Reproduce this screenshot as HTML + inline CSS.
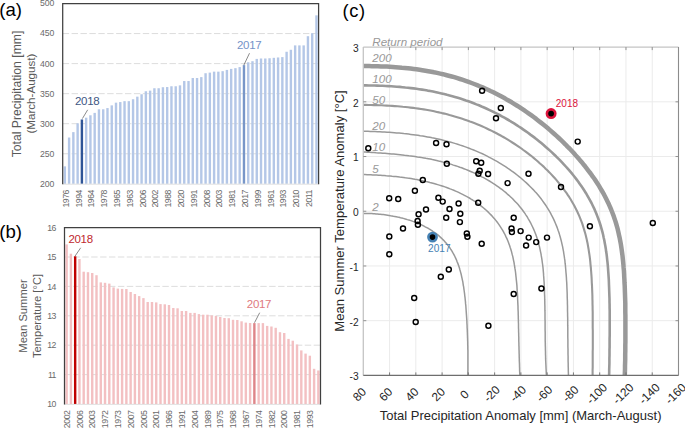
<!DOCTYPE html><html><head><meta charset="utf-8"><style>html,body{margin:0;padding:0;background:#fff;width:685px;height:428px;overflow:hidden}svg{display:block}text{font-family:"Liberation Sans", sans-serif}</style></head><body>
<svg width="685" height="428" viewBox="0 0 685 428">
<line x1="62.7" y1="33.55" x2="318.6" y2="33.55" stroke="#d9d9d9" stroke-width="0.9" stroke-dasharray="6.4 2.5"/>
<line x1="62.7" y1="63.60" x2="318.6" y2="63.60" stroke="#d9d9d9" stroke-width="0.9" stroke-dasharray="6.4 2.5"/>
<line x1="62.7" y1="93.65" x2="318.6" y2="93.65" stroke="#d9d9d9" stroke-width="0.9" stroke-dasharray="6.4 2.5"/>
<line x1="62.7" y1="123.70" x2="318.6" y2="123.70" stroke="#d9d9d9" stroke-width="0.9" stroke-dasharray="6.4 2.5"/>
<line x1="62.7" y1="153.75" x2="318.6" y2="153.75" stroke="#d9d9d9" stroke-width="0.9" stroke-dasharray="6.4 2.5"/>
<rect x="63.63" y="166.37" width="2.4" height="17.43" fill="#b4c7e7"/>
<rect x="67.90" y="137.52" width="2.4" height="46.28" fill="#b4c7e7"/>
<rect x="72.16" y="132.11" width="2.4" height="51.69" fill="#b4c7e7"/>
<rect x="76.43" y="123.28" width="2.4" height="60.52" fill="#b4c7e7"/>
<rect x="80.69" y="119.49" width="2.4" height="64.31" fill="#2f5597"/>
<rect x="84.96" y="117.69" width="2.4" height="66.11" fill="#b4c7e7"/>
<rect x="89.22" y="115.29" width="2.4" height="68.51" fill="#b4c7e7"/>
<rect x="93.49" y="112.88" width="2.4" height="70.92" fill="#b4c7e7"/>
<rect x="97.75" y="109.28" width="2.4" height="74.52" fill="#b4c7e7"/>
<rect x="102.02" y="109.28" width="2.4" height="74.52" fill="#b4c7e7"/>
<rect x="106.28" y="108.07" width="2.4" height="75.73" fill="#b4c7e7"/>
<rect x="110.55" y="105.37" width="2.4" height="78.43" fill="#b4c7e7"/>
<rect x="114.81" y="102.67" width="2.4" height="81.14" fill="#b4c7e7"/>
<rect x="119.08" y="102.06" width="2.4" height="81.74" fill="#b4c7e7"/>
<rect x="123.34" y="101.16" width="2.4" height="82.64" fill="#b4c7e7"/>
<rect x="127.61" y="101.16" width="2.4" height="82.64" fill="#b4c7e7"/>
<rect x="131.87" y="99.24" width="2.4" height="84.56" fill="#b4c7e7"/>
<rect x="136.14" y="96.66" width="2.4" height="87.15" fill="#b4c7e7"/>
<rect x="140.40" y="94.25" width="2.4" height="89.55" fill="#b4c7e7"/>
<rect x="144.67" y="91.25" width="2.4" height="92.55" fill="#b4c7e7"/>
<rect x="148.93" y="90.64" width="2.4" height="93.16" fill="#b4c7e7"/>
<rect x="153.20" y="88.24" width="2.4" height="95.56" fill="#b4c7e7"/>
<rect x="157.46" y="88.24" width="2.4" height="95.56" fill="#b4c7e7"/>
<rect x="161.73" y="87.22" width="2.4" height="96.58" fill="#b4c7e7"/>
<rect x="165.99" y="87.04" width="2.4" height="96.76" fill="#b4c7e7"/>
<rect x="170.26" y="86.26" width="2.4" height="97.54" fill="#b4c7e7"/>
<rect x="174.52" y="86.26" width="2.4" height="97.54" fill="#b4c7e7"/>
<rect x="178.79" y="85.36" width="2.4" height="98.44" fill="#b4c7e7"/>
<rect x="183.05" y="81.03" width="2.4" height="102.77" fill="#b4c7e7"/>
<rect x="187.32" y="81.03" width="2.4" height="102.77" fill="#b4c7e7"/>
<rect x="191.58" y="78.02" width="2.4" height="105.78" fill="#b4c7e7"/>
<rect x="195.85" y="78.02" width="2.4" height="105.78" fill="#b4c7e7"/>
<rect x="200.11" y="77.12" width="2.4" height="106.68" fill="#b4c7e7"/>
<rect x="204.38" y="73.22" width="2.4" height="110.58" fill="#b4c7e7"/>
<rect x="208.64" y="72.61" width="2.4" height="111.19" fill="#b4c7e7"/>
<rect x="212.91" y="71.65" width="2.4" height="112.15" fill="#b4c7e7"/>
<rect x="217.17" y="71.65" width="2.4" height="112.15" fill="#b4c7e7"/>
<rect x="221.44" y="71.17" width="2.4" height="112.63" fill="#b4c7e7"/>
<rect x="225.70" y="69.91" width="2.4" height="113.89" fill="#b4c7e7"/>
<rect x="229.97" y="68.89" width="2.4" height="114.91" fill="#b4c7e7"/>
<rect x="234.23" y="68.17" width="2.4" height="115.63" fill="#b4c7e7"/>
<rect x="238.50" y="67.09" width="2.4" height="116.71" fill="#b4c7e7"/>
<rect x="242.76" y="65.10" width="2.4" height="118.70" fill="#7896c8"/>
<rect x="247.03" y="62.28" width="2.4" height="121.52" fill="#b4c7e7"/>
<rect x="251.29" y="61.20" width="2.4" height="122.60" fill="#b4c7e7"/>
<rect x="255.56" y="58.91" width="2.4" height="124.89" fill="#b4c7e7"/>
<rect x="259.82" y="58.49" width="2.4" height="125.31" fill="#b4c7e7"/>
<rect x="264.09" y="58.49" width="2.4" height="125.31" fill="#b4c7e7"/>
<rect x="268.35" y="58.25" width="2.4" height="125.55" fill="#b4c7e7"/>
<rect x="272.62" y="57.83" width="2.4" height="125.97" fill="#b4c7e7"/>
<rect x="276.88" y="57.47" width="2.4" height="126.33" fill="#b4c7e7"/>
<rect x="281.15" y="57.11" width="2.4" height="126.69" fill="#b4c7e7"/>
<rect x="285.41" y="51.76" width="2.4" height="132.04" fill="#b4c7e7"/>
<rect x="289.68" y="49.78" width="2.4" height="134.02" fill="#b4c7e7"/>
<rect x="293.94" y="45.39" width="2.4" height="138.41" fill="#b4c7e7"/>
<rect x="298.21" y="45.39" width="2.4" height="138.41" fill="#b4c7e7"/>
<rect x="302.47" y="45.39" width="2.4" height="138.41" fill="#b4c7e7"/>
<rect x="306.74" y="36.19" width="2.4" height="147.61" fill="#b4c7e7"/>
<rect x="311.00" y="33.19" width="2.4" height="150.61" fill="#b4c7e7"/>
<rect x="315.27" y="15.34" width="2.4" height="168.46" fill="#b4c7e7"/>
<line x1="62.7" y1="184.20" x2="318.6" y2="184.20" stroke="#d9d9d9" stroke-width="0.8"/>
<path d="M62.7 184.3 V3.5 H318.6 V184.3" fill="none" stroke="#404040" stroke-width="1.25"/>
<text x="54.2" y="6.40" font-size="8.7" letter-spacing="-0.1" fill="#6a6a6a" text-anchor="end">500</text>
<text x="54.2" y="36.45" font-size="8.7" letter-spacing="-0.1" fill="#6a6a6a" text-anchor="end">450</text>
<text x="54.2" y="66.50" font-size="8.7" letter-spacing="-0.1" fill="#6a6a6a" text-anchor="end">400</text>
<text x="54.2" y="96.55" font-size="8.7" letter-spacing="-0.1" fill="#6a6a6a" text-anchor="end">350</text>
<text x="54.2" y="126.60" font-size="8.7" letter-spacing="-0.1" fill="#6a6a6a" text-anchor="end">300</text>
<text x="54.2" y="156.65" font-size="8.7" letter-spacing="-0.1" fill="#6a6a6a" text-anchor="end">250</text>
<text x="54.2" y="186.70" font-size="8.7" letter-spacing="-0.1" fill="#6a6a6a" text-anchor="end">200</text>
<text transform="translate(68.83,190) rotate(-90)" font-size="8.7" letter-spacing="-0.45" fill="#6a6a6a" text-anchor="end">1976</text>
<text transform="translate(81.63,190) rotate(-90)" font-size="8.7" letter-spacing="-0.45" fill="#6a6a6a" text-anchor="end">1994</text>
<text transform="translate(94.42,190) rotate(-90)" font-size="8.7" letter-spacing="-0.45" fill="#6a6a6a" text-anchor="end">1964</text>
<text transform="translate(107.22,190) rotate(-90)" font-size="8.7" letter-spacing="-0.45" fill="#6a6a6a" text-anchor="end">1978</text>
<text transform="translate(120.01,190) rotate(-90)" font-size="8.7" letter-spacing="-0.45" fill="#6a6a6a" text-anchor="end">1965</text>
<text transform="translate(132.81,190) rotate(-90)" font-size="8.7" letter-spacing="-0.45" fill="#6a6a6a" text-anchor="end">1963</text>
<text transform="translate(145.60,190) rotate(-90)" font-size="8.7" letter-spacing="-0.45" fill="#6a6a6a" text-anchor="end">2006</text>
<text transform="translate(158.40,190) rotate(-90)" font-size="8.7" letter-spacing="-0.45" fill="#6a6a6a" text-anchor="end">2002</text>
<text transform="translate(171.19,190) rotate(-90)" font-size="8.7" letter-spacing="-0.45" fill="#6a6a6a" text-anchor="end">1988</text>
<text transform="translate(183.99,190) rotate(-90)" font-size="8.7" letter-spacing="-0.45" fill="#6a6a6a" text-anchor="end">2020</text>
<text transform="translate(196.78,190) rotate(-90)" font-size="8.7" letter-spacing="-0.45" fill="#6a6a6a" text-anchor="end">1991</text>
<text transform="translate(209.58,190) rotate(-90)" font-size="8.7" letter-spacing="-0.45" fill="#6a6a6a" text-anchor="end">2008</text>
<text transform="translate(222.37,190) rotate(-90)" font-size="8.7" letter-spacing="-0.45" fill="#6a6a6a" text-anchor="end">2003</text>
<text transform="translate(235.17,190) rotate(-90)" font-size="8.7" letter-spacing="-0.45" fill="#6a6a6a" text-anchor="end">1981</text>
<text transform="translate(247.96,190) rotate(-90)" font-size="8.7" letter-spacing="-0.45" fill="#6a6a6a" text-anchor="end">2017</text>
<text transform="translate(260.76,190) rotate(-90)" font-size="8.7" letter-spacing="-0.45" fill="#6a6a6a" text-anchor="end">1999</text>
<text transform="translate(273.55,190) rotate(-90)" font-size="8.7" letter-spacing="-0.45" fill="#6a6a6a" text-anchor="end">1961</text>
<text transform="translate(286.35,190) rotate(-90)" font-size="8.7" letter-spacing="-0.45" fill="#6a6a6a" text-anchor="end">1993</text>
<text transform="translate(299.14,190) rotate(-90)" font-size="8.7" letter-spacing="-0.45" fill="#6a6a6a" text-anchor="end">2010</text>
<text transform="translate(311.94,190) rotate(-90)" font-size="8.7" letter-spacing="-0.45" fill="#6a6a6a" text-anchor="end">2011</text>
<text transform="translate(20.8,94.0) rotate(-90)" font-size="12.2" fill="#595959" text-anchor="middle">Total Precipitation [mm]</text>
<text transform="translate(35.0,93.6) rotate(-90)" font-size="11.6" fill="#595959" text-anchor="middle">(March-August)</text>
<line x1="87.7" y1="109.8" x2="82.4" y2="118.6" stroke="#595959" stroke-width="0.7"/>
<text x="75" y="105.4" font-size="11.5" letter-spacing="-0.3" fill="#3e5683">2018</text>
<line x1="249.5" y1="53.2" x2="243.9" y2="65" stroke="#595959" stroke-width="0.7"/>
<text x="237" y="48.7" font-size="11.5" letter-spacing="-0.3" fill="#7493c8">2017</text>
<text x="-0.8" y="16.4" font-size="18.6" fill="#000">(a)</text>
<line x1="64.5" y1="257.00" x2="320.5" y2="257.00" stroke="#d9d9d9" stroke-width="0.9" stroke-dasharray="6.4 2.5"/>
<line x1="64.5" y1="286.40" x2="320.5" y2="286.40" stroke="#d9d9d9" stroke-width="0.9" stroke-dasharray="6.4 2.5"/>
<line x1="64.5" y1="315.80" x2="320.5" y2="315.80" stroke="#d9d9d9" stroke-width="0.9" stroke-dasharray="6.4 2.5"/>
<line x1="64.5" y1="345.20" x2="320.5" y2="345.20" stroke="#d9d9d9" stroke-width="0.9" stroke-dasharray="6.4 2.5"/>
<line x1="64.5" y1="374.60" x2="320.5" y2="374.60" stroke="#d9d9d9" stroke-width="0.9" stroke-dasharray="6.4 2.5"/>
<rect x="65.43" y="244.40" width="2.4" height="159.60" fill="#f3c0c2"/>
<rect x="69.70" y="253.70" width="2.4" height="150.30" fill="#f3c0c2"/>
<rect x="73.97" y="256.30" width="2.4" height="147.70" fill="#c00000"/>
<rect x="78.23" y="259.00" width="2.4" height="145.00" fill="#f3c0c2"/>
<rect x="82.50" y="271.70" width="2.4" height="132.30" fill="#f3c0c2"/>
<rect x="86.77" y="272.20" width="2.4" height="131.80" fill="#f3c0c2"/>
<rect x="91.03" y="273.00" width="2.4" height="131.00" fill="#f3c0c2"/>
<rect x="95.30" y="275.20" width="2.4" height="128.80" fill="#f3c0c2"/>
<rect x="99.57" y="282.40" width="2.4" height="121.60" fill="#f3c0c2"/>
<rect x="103.83" y="282.80" width="2.4" height="121.20" fill="#f3c0c2"/>
<rect x="108.10" y="283.60" width="2.4" height="120.40" fill="#f3c0c2"/>
<rect x="112.37" y="287.40" width="2.4" height="116.60" fill="#f3c0c2"/>
<rect x="116.63" y="288.60" width="2.4" height="115.40" fill="#f3c0c2"/>
<rect x="120.90" y="288.90" width="2.4" height="115.10" fill="#f3c0c2"/>
<rect x="125.17" y="289.00" width="2.4" height="115.00" fill="#f3c0c2"/>
<rect x="129.43" y="292.00" width="2.4" height="112.00" fill="#f3c0c2"/>
<rect x="133.70" y="294.00" width="2.4" height="110.00" fill="#f3c0c2"/>
<rect x="137.97" y="296.10" width="2.4" height="107.90" fill="#f3c0c2"/>
<rect x="142.23" y="298.10" width="2.4" height="105.90" fill="#f3c0c2"/>
<rect x="146.50" y="302.00" width="2.4" height="102.00" fill="#f3c0c2"/>
<rect x="150.77" y="302.00" width="2.4" height="102.00" fill="#f3c0c2"/>
<rect x="155.03" y="302.40" width="2.4" height="101.60" fill="#f3c0c2"/>
<rect x="159.30" y="304.10" width="2.4" height="99.90" fill="#f3c0c2"/>
<rect x="163.57" y="304.30" width="2.4" height="99.70" fill="#f3c0c2"/>
<rect x="167.83" y="305.00" width="2.4" height="99.00" fill="#f3c0c2"/>
<rect x="172.10" y="308.00" width="2.4" height="96.00" fill="#f3c0c2"/>
<rect x="176.37" y="308.30" width="2.4" height="95.70" fill="#f3c0c2"/>
<rect x="180.63" y="311.00" width="2.4" height="93.00" fill="#f3c0c2"/>
<rect x="184.90" y="311.00" width="2.4" height="93.00" fill="#f3c0c2"/>
<rect x="189.17" y="312.90" width="2.4" height="91.10" fill="#f3c0c2"/>
<rect x="193.43" y="312.90" width="2.4" height="91.10" fill="#f3c0c2"/>
<rect x="197.70" y="314.10" width="2.4" height="89.90" fill="#f3c0c2"/>
<rect x="201.97" y="314.70" width="2.4" height="89.30" fill="#f3c0c2"/>
<rect x="206.23" y="314.70" width="2.4" height="89.30" fill="#f3c0c2"/>
<rect x="210.50" y="315.40" width="2.4" height="88.60" fill="#f3c0c2"/>
<rect x="214.77" y="315.90" width="2.4" height="88.10" fill="#f3c0c2"/>
<rect x="219.03" y="317.00" width="2.4" height="87.00" fill="#f3c0c2"/>
<rect x="223.30" y="318.00" width="2.4" height="86.00" fill="#f3c0c2"/>
<rect x="227.57" y="318.20" width="2.4" height="85.80" fill="#f3c0c2"/>
<rect x="231.83" y="319.80" width="2.4" height="84.20" fill="#f3c0c2"/>
<rect x="236.10" y="320.00" width="2.4" height="84.00" fill="#f3c0c2"/>
<rect x="240.37" y="321.30" width="2.4" height="82.70" fill="#f3c0c2"/>
<rect x="244.63" y="322.60" width="2.4" height="81.40" fill="#f3c0c2"/>
<rect x="248.90" y="323.00" width="2.4" height="81.00" fill="#f3c0c2"/>
<rect x="253.17" y="323.10" width="2.4" height="80.90" fill="#de8589"/>
<rect x="257.43" y="323.10" width="2.4" height="80.90" fill="#f3c0c2"/>
<rect x="261.70" y="323.10" width="2.4" height="80.90" fill="#f3c0c2"/>
<rect x="265.97" y="325.90" width="2.4" height="78.10" fill="#f3c0c2"/>
<rect x="270.23" y="326.50" width="2.4" height="77.50" fill="#f3c0c2"/>
<rect x="274.50" y="327.80" width="2.4" height="76.20" fill="#f3c0c2"/>
<rect x="278.77" y="332.20" width="2.4" height="71.80" fill="#f3c0c2"/>
<rect x="283.03" y="333.00" width="2.4" height="71.00" fill="#f3c0c2"/>
<rect x="287.30" y="338.90" width="2.4" height="65.10" fill="#f3c0c2"/>
<rect x="291.57" y="340.70" width="2.4" height="63.30" fill="#f3c0c2"/>
<rect x="295.83" y="344.50" width="2.4" height="59.50" fill="#f3c0c2"/>
<rect x="300.10" y="350.40" width="2.4" height="53.60" fill="#f3c0c2"/>
<rect x="304.37" y="353.60" width="2.4" height="50.40" fill="#f3c0c2"/>
<rect x="308.63" y="355.70" width="2.4" height="48.30" fill="#f3c0c2"/>
<rect x="312.90" y="368.80" width="2.4" height="35.20" fill="#f3c0c2"/>
<rect x="317.17" y="370.50" width="2.4" height="33.50" fill="#f3c0c2"/>
<line x1="64.5" y1="404.40" x2="320.5" y2="404.40" stroke="#d9d9d9" stroke-width="0.8"/>
<path d="M64.5 404.5 V227.6 H320.5 V404.5" fill="none" stroke="#404040" stroke-width="1.25"/>
<text x="56" y="230.70" font-size="8.7" letter-spacing="-0.45" fill="#6a6a6a" text-anchor="end">16</text>
<text x="56" y="260.10" font-size="8.7" letter-spacing="-0.45" fill="#6a6a6a" text-anchor="end">15</text>
<text x="56" y="289.50" font-size="8.7" letter-spacing="-0.45" fill="#6a6a6a" text-anchor="end">14</text>
<text x="56" y="318.90" font-size="8.7" letter-spacing="-0.45" fill="#6a6a6a" text-anchor="end">13</text>
<text x="56" y="348.30" font-size="8.7" letter-spacing="-0.45" fill="#6a6a6a" text-anchor="end">12</text>
<text x="56" y="377.70" font-size="8.7" letter-spacing="-0.45" fill="#6a6a6a" text-anchor="end">11</text>
<text x="56" y="407.10" font-size="8.7" letter-spacing="-0.45" fill="#6a6a6a" text-anchor="end">10</text>
<text transform="translate(69.73,410.6) rotate(-90)" font-size="8.7" letter-spacing="-0.45" fill="#6a6a6a" text-anchor="end">2002</text>
<text transform="translate(82.53,410.6) rotate(-90)" font-size="8.7" letter-spacing="-0.45" fill="#6a6a6a" text-anchor="end">2006</text>
<text transform="translate(95.33,410.6) rotate(-90)" font-size="8.7" letter-spacing="-0.45" fill="#6a6a6a" text-anchor="end">2003</text>
<text transform="translate(108.13,410.6) rotate(-90)" font-size="8.7" letter-spacing="-0.45" fill="#6a6a6a" text-anchor="end">1972</text>
<text transform="translate(120.93,410.6) rotate(-90)" font-size="8.7" letter-spacing="-0.45" fill="#6a6a6a" text-anchor="end">1973</text>
<text transform="translate(133.73,410.6) rotate(-90)" font-size="8.7" letter-spacing="-0.45" fill="#6a6a6a" text-anchor="end">2007</text>
<text transform="translate(146.53,410.6) rotate(-90)" font-size="8.7" letter-spacing="-0.45" fill="#6a6a6a" text-anchor="end">2005</text>
<text transform="translate(159.33,410.6) rotate(-90)" font-size="8.7" letter-spacing="-0.45" fill="#6a6a6a" text-anchor="end">2001</text>
<text transform="translate(172.13,410.6) rotate(-90)" font-size="8.7" letter-spacing="-0.45" fill="#6a6a6a" text-anchor="end">1966</text>
<text transform="translate(184.93,410.6) rotate(-90)" font-size="8.7" letter-spacing="-0.45" fill="#6a6a6a" text-anchor="end">1991</text>
<text transform="translate(197.73,410.6) rotate(-90)" font-size="8.7" letter-spacing="-0.45" fill="#6a6a6a" text-anchor="end">2004</text>
<text transform="translate(210.53,410.6) rotate(-90)" font-size="8.7" letter-spacing="-0.45" fill="#6a6a6a" text-anchor="end">1989</text>
<text transform="translate(223.33,410.6) rotate(-90)" font-size="8.7" letter-spacing="-0.45" fill="#6a6a6a" text-anchor="end">1975</text>
<text transform="translate(236.13,410.6) rotate(-90)" font-size="8.7" letter-spacing="-0.45" fill="#6a6a6a" text-anchor="end">1968</text>
<text transform="translate(248.93,410.6) rotate(-90)" font-size="8.7" letter-spacing="-0.45" fill="#6a6a6a" text-anchor="end">1967</text>
<text transform="translate(261.73,410.6) rotate(-90)" font-size="8.7" letter-spacing="-0.45" fill="#6a6a6a" text-anchor="end">1974</text>
<text transform="translate(274.53,410.6) rotate(-90)" font-size="8.7" letter-spacing="-0.45" fill="#6a6a6a" text-anchor="end">1982</text>
<text transform="translate(287.33,410.6) rotate(-90)" font-size="8.7" letter-spacing="-0.45" fill="#6a6a6a" text-anchor="end">2000</text>
<text transform="translate(300.13,410.6) rotate(-90)" font-size="8.7" letter-spacing="-0.45" fill="#6a6a6a" text-anchor="end">1981</text>
<text transform="translate(312.93,410.6) rotate(-90)" font-size="8.7" letter-spacing="-0.45" fill="#6a6a6a" text-anchor="end">1993</text>
<text transform="translate(27.3,316) rotate(-90)" font-size="11.2" fill="#595959" text-anchor="middle">Mean Summer</text>
<text transform="translate(41.2,316) rotate(-90)" font-size="11.1" fill="#595959" text-anchor="middle">Temperature [°C]</text>
<line x1="80.7" y1="247.8" x2="75.1" y2="256" stroke="#595959" stroke-width="0.7"/>
<text x="68.4" y="243.4" font-size="11.5" letter-spacing="-0.3" fill="#c0282e">2018</text>
<line x1="259.7" y1="312.7" x2="254.5" y2="322.7" stroke="#595959" stroke-width="0.7"/>
<text x="246.8" y="308.2" font-size="11.5" letter-spacing="-0.3" fill="#e07a80">2017</text>
<text x="-0.8" y="237.8" font-size="18.6" fill="#000">(b)</text>
<line x1="389.57" y1="47.1" x2="389.57" y2="375.4" stroke="#ebebeb" stroke-width="1"/>
<line x1="415.83" y1="47.1" x2="415.83" y2="375.4" stroke="#ebebeb" stroke-width="1"/>
<line x1="442.10" y1="47.1" x2="442.10" y2="375.4" stroke="#ebebeb" stroke-width="1"/>
<line x1="468.37" y1="47.1" x2="468.37" y2="375.4" stroke="#ebebeb" stroke-width="1"/>
<line x1="494.63" y1="47.1" x2="494.63" y2="375.4" stroke="#ebebeb" stroke-width="1"/>
<line x1="520.90" y1="47.1" x2="520.90" y2="375.4" stroke="#ebebeb" stroke-width="1"/>
<line x1="547.17" y1="47.1" x2="547.17" y2="375.4" stroke="#ebebeb" stroke-width="1"/>
<line x1="573.43" y1="47.1" x2="573.43" y2="375.4" stroke="#ebebeb" stroke-width="1"/>
<line x1="599.70" y1="47.1" x2="599.70" y2="375.4" stroke="#ebebeb" stroke-width="1"/>
<line x1="625.97" y1="47.1" x2="625.97" y2="375.4" stroke="#ebebeb" stroke-width="1"/>
<line x1="652.23" y1="47.1" x2="652.23" y2="375.4" stroke="#ebebeb" stroke-width="1"/>
<line x1="363.3" y1="101.82" x2="678.5" y2="101.82" stroke="#ebebeb" stroke-width="1"/>
<line x1="363.3" y1="156.53" x2="678.5" y2="156.53" stroke="#ebebeb" stroke-width="1"/>
<line x1="363.3" y1="211.25" x2="678.5" y2="211.25" stroke="#ebebeb" stroke-width="1"/>
<line x1="363.3" y1="265.97" x2="678.5" y2="265.97" stroke="#ebebeb" stroke-width="1"/>
<line x1="363.3" y1="320.68" x2="678.5" y2="320.68" stroke="#ebebeb" stroke-width="1"/>
<defs><clipPath id="cc"><rect x="363.3" y="47.1" width="315.2" height="328.29999999999995"/></clipPath></defs>
<g fill="none" stroke="#999999" stroke-linecap="butt" stroke-linejoin="round" clip-path="url(#cc)">
<path d="M363.3 213.4 L364.5 213.4 L366.0 213.4 L367.4 213.5 L368.9 213.5 L370.3 213.6 L371.8 213.6 L373.2 213.7 L374.7 213.8 L376.0 213.9 L377.6 214.0 L378.9 214.2 L380.4 214.3 L382.0 214.5 L383.3 214.6 L384.8 214.8 L386.2 215.0 L387.7 215.2 L389.0 215.4 L390.6 215.7 L391.9 215.9 L393.4 216.2 L394.7 216.4 L396.2 216.7 L397.5 217.0 L399.0 217.3 L400.5 217.7 L401.9 218.0 L403.3 218.4 L404.6 218.8 L406.1 219.2 L407.4 219.6 L408.9 220.0 L410.2 220.4 L411.6 220.9 L412.9 221.4 L414.3 221.9 L415.8 222.4 L417.0 222.9 L418.4 223.5 L419.7 224.1 L421.1 224.7 L422.3 225.3 L423.6 225.9 L424.8 226.6 L426.2 227.3 L427.4 227.9 L428.7 228.7 L429.9 229.4 L431.1 230.2 L432.4 231.0 L433.5 231.8 L434.8 232.7 L435.9 233.4 L437.1 234.4 L438.1 235.2 L439.3 236.2 L440.3 237.1 L441.4 238.1 L442.3 239.0 L443.4 240.1 L444.3 241.1 L445.3 242.2 L446.3 243.3 L447.2 244.4 L448.1 245.6 L448.9 246.6 L449.8 247.8 L450.5 248.9 L451.4 250.2 L452.1 251.3 L452.8 252.7 L453.5 253.8 L454.2 255.1 L454.9 256.5 L455.4 257.7 L456.1 259.1 L456.6 260.3 L457.1 261.7 L457.6 262.9 L458.2 264.4 L458.6 265.6 L459.1 267.1 L459.5 268.3 L459.9 269.8 L460.3 271.1 L460.7 272.6 L461.1 274.0 L461.4 275.3 L461.7 276.8 L462.0 278.1 L462.3 279.6 L462.6 280.9 L462.9 282.4 L463.1 283.8 L463.3 285.3 L463.6 286.6 L463.8 288.1 L464.0 289.6 L464.2 291.0 L464.4 292.5 L464.6 293.8 L464.7 295.3 L464.9 296.7 L465.1 298.2 L465.2 299.5 L465.4 301.1 L465.5 302.4 L465.6 303.9 L465.8 305.3 L465.9 306.8 L466.0 308.4 L466.1 309.7 L466.2 311.2 L466.3 312.6 L466.4 314.1 L466.5 315.5 L466.6 317.0 L466.7 318.4 L466.8 319.9 L466.9 321.2 L466.9 322.8 L467.0 324.1 L467.1 325.7 L467.1 327.2 L467.2 328.6 L467.3 330.1 L467.3 331.4 L467.4 333.0 L467.4 334.3 L467.5 335.9 L467.5 337.2 L467.6 338.8 L467.6 340.1 L467.7 341.7 L467.7 343.2 L467.7 344.6 L467.8 346.1 L467.8 347.5 L467.8 349.0 L467.9 350.4 L467.9 351.9 L467.9 353.2 L467.9 354.8 L467.9 356.1 L467.9 357.7 L467.9 359.0 L467.9 360.6 L467.9 362.1 L467.9 363.5 L467.9 365.0 L467.9 366.4 L467.9 367.9 L467.9 369.3 L467.9 370.8 L467.8 372.2 L467.8 373.7 L467.8 375.1 L467.7 376.6 L467.7 378.1" stroke-width="1.5"/>
<path d="M363.3 174.6 L365.0 174.6 L367.1 174.7 L368.9 174.8 L370.9 174.8 L372.7 174.9 L374.8 175.0 L376.5 175.1 L378.6 175.2 L380.4 175.3 L382.4 175.5 L384.2 175.6 L386.2 175.8 L388.3 175.9 L390.1 176.1 L392.1 176.3 L393.9 176.4 L395.9 176.6 L397.7 176.8 L399.7 177.1 L401.5 177.3 L403.5 177.5 L405.3 177.8 L407.4 178.1 L409.1 178.3 L411.1 178.6 L413.2 179.0 L414.9 179.3 L416.9 179.6 L418.7 180.0 L420.7 180.4 L422.5 180.7 L424.5 181.2 L426.2 181.6 L428.2 182.0 L429.9 182.5 L431.9 183.0 L433.9 183.5 L435.6 184.0 L437.6 184.6 L439.3 185.1 L441.3 185.7 L443.0 186.2 L444.9 186.9 L446.6 187.5 L448.5 188.2 L450.2 188.9 L452.1 189.6 L453.8 190.3 L455.6 191.1 L457.5 191.9 L459.1 192.7 L461.0 193.6 L462.6 194.4 L464.4 195.3 L466.0 196.2 L467.8 197.1 L469.4 198.0 L471.1 199.1 L472.6 200.0 L474.4 201.2 L475.9 202.1 L477.5 203.3 L479.2 204.5 L480.6 205.6 L482.2 206.9 L483.6 208.0 L485.2 209.3 L486.5 210.5 L488.0 211.9 L489.3 213.2 L490.7 214.6 L492.0 215.9 L493.3 217.4 L494.7 219.0 L495.8 220.4 L497.1 222.0 L498.1 223.4 L499.3 225.1 L500.3 226.6 L501.4 228.3 L502.4 229.8 L503.4 231.6 L504.2 233.2 L505.2 235.0 L505.9 236.6 L506.8 238.4 L507.6 240.3 L508.3 242.0 L509.0 243.9 L509.6 245.6 L510.2 247.5 L510.8 249.2 L511.4 251.2 L511.8 252.9 L512.3 254.9 L512.8 256.6 L513.2 258.6 L513.6 260.6 L514.0 262.4 L514.3 264.4 L514.6 266.1 L514.9 268.2 L515.2 269.9 L515.5 272.0 L515.7 273.7 L515.9 275.8 L516.1 277.5 L516.3 279.6 L516.5 281.4 L516.7 283.4 L516.9 285.4 L517.0 287.2 L517.1 289.3 L517.2 291.1 L517.4 293.1 L517.5 294.9 L517.6 296.9 L517.6 298.7 L517.7 300.8 L517.8 302.6 L517.9 304.6 L518.0 306.4 L518.0 308.4 L518.1 310.5 L518.2 312.3 L518.2 314.3 L518.3 316.1 L518.3 318.2 L518.4 320.0 L518.4 322.0 L518.5 323.8 L518.5 325.9 L518.5 327.6 L518.6 329.7 L518.6 331.8 L518.7 333.5 L518.7 335.6 L518.8 337.4 L518.8 339.4 L518.8 341.2 L518.9 343.3 L518.9 345.1 L519.0 347.1 L519.0 348.9 L519.1 351.0 L519.1 352.8 L519.2 354.8 L519.2 356.9 L519.3 358.7 L519.3 360.7 L519.4 362.5 L519.5 364.6 L519.5 366.3 L519.6 368.4 L519.6 370.2 L519.7 372.2 L519.8 374.0 L519.9 376.1 L520.0 378.1" stroke-width="1.5"/>
<path d="M363.3 152.0 L365.3 152.1 L367.6 152.2 L369.6 152.3 L371.9 152.5 L373.9 152.6 L376.2 152.8 L378.3 152.9 L380.6 153.0 L382.6 153.2 L384.9 153.3 L386.9 153.5 L389.2 153.7 L391.5 153.9 L393.6 154.1 L395.9 154.3 L397.9 154.5 L400.2 154.7 L402.2 154.9 L404.5 155.2 L406.5 155.4 L408.8 155.7 L410.8 155.9 L413.1 156.2 L415.1 156.5 L417.4 156.9 L419.6 157.2 L421.6 157.6 L423.9 157.9 L425.9 158.3 L428.2 158.7 L430.2 159.1 L432.4 159.6 L434.4 160.0 L436.7 160.5 L438.6 161.0 L440.9 161.5 L443.1 162.1 L445.1 162.6 L447.3 163.2 L449.3 163.8 L451.5 164.4 L453.4 165.1 L455.6 165.8 L457.6 166.4 L459.8 167.2 L461.7 167.8 L463.9 168.7 L465.7 169.4 L467.9 170.3 L470.0 171.2 L471.9 172.0 L474.0 172.9 L475.9 173.8 L478.0 174.8 L479.8 175.7 L481.8 176.8 L483.6 177.7 L485.7 178.8 L487.4 179.8 L489.4 181.0 L491.2 182.1 L493.1 183.3 L495.1 184.6 L496.8 185.8 L498.7 187.1 L500.3 188.3 L502.2 189.7 L503.8 191.0 L505.6 192.4 L507.1 193.8 L508.9 195.3 L510.4 196.7 L512.1 198.3 L513.7 199.9 L515.1 201.4 L516.7 203.1 L518.1 204.6 L519.6 206.4 L520.9 208.0 L522.3 209.8 L523.5 211.5 L524.9 213.4 L526.0 215.1 L527.3 217.0 L528.3 218.8 L529.5 220.8 L530.6 222.8 L531.5 224.7 L532.5 226.8 L533.4 228.6 L534.3 230.8 L535.1 232.7 L535.9 234.8 L536.6 236.7 L537.3 238.9 L537.9 240.9 L538.5 243.1 L539.1 245.4 L539.6 247.3 L540.1 249.6 L540.5 251.6 L541.0 253.9 L541.3 255.9 L541.7 258.2 L542.0 260.2 L542.3 262.5 L542.6 264.5 L542.9 266.8 L543.1 268.8 L543.3 271.1 L543.5 273.4 L543.6 275.4 L543.8 277.7 L543.9 279.7 L544.1 282.1 L544.2 284.1 L544.3 286.4 L544.4 288.4 L544.5 290.7 L544.5 292.8 L544.6 295.1 L544.7 297.1 L544.7 299.4 L544.8 301.7 L544.8 303.7 L544.9 306.1 L544.9 308.1 L544.9 310.4 L545.0 312.4 L545.0 314.7 L545.0 316.8 L545.0 319.1 L545.1 321.1 L545.1 323.4 L545.1 325.7 L545.1 327.8 L545.1 330.1 L545.2 332.1 L545.2 334.4 L545.2 336.4 L545.2 338.8 L545.2 340.8 L545.3 343.1 L545.3 345.1 L545.4 347.4 L545.4 349.5 L545.5 351.8 L545.5 354.1 L545.6 356.1 L545.6 358.4 L545.7 360.5 L545.8 362.8 L545.9 364.8 L546.0 367.1 L546.1 369.2 L546.2 371.5 L546.3 373.5 L546.4 375.8 L546.5 378.1" stroke-width="1.5"/>
<path d="M363.3 131.2 L365.5 131.2 L368.0 131.3 L370.3 131.4 L372.8 131.5 L375.0 131.6 L377.6 131.7 L379.8 131.8 L382.3 131.9 L384.5 132.0 L387.1 132.2 L389.3 132.3 L391.8 132.5 L394.4 132.7 L396.6 132.9 L399.1 133.1 L401.3 133.3 L403.8 133.6 L406.1 133.8 L408.6 134.1 L410.8 134.4 L413.3 134.7 L415.5 135.0 L418.0 135.3 L420.2 135.7 L422.8 136.1 L425.2 136.5 L427.4 136.9 L429.9 137.3 L432.1 137.8 L434.6 138.3 L436.8 138.7 L439.3 139.3 L441.5 139.8 L443.9 140.4 L446.1 140.9 L448.6 141.6 L451.0 142.3 L453.1 142.9 L455.6 143.6 L457.7 144.3 L460.1 145.1 L462.3 145.8 L464.7 146.6 L466.8 147.4 L469.1 148.3 L471.2 149.1 L473.6 150.0 L475.7 150.9 L478.0 151.9 L480.3 152.9 L482.4 153.8 L484.7 154.9 L486.7 155.9 L488.9 157.1 L490.9 158.1 L493.2 159.3 L495.1 160.4 L497.4 161.6 L499.3 162.8 L501.4 164.1 L503.4 165.3 L505.5 166.6 L507.6 168.1 L509.5 169.3 L511.5 170.8 L513.4 172.1 L515.4 173.6 L517.1 175.0 L519.1 176.6 L520.9 178.0 L522.8 179.7 L524.5 181.2 L526.4 182.9 L528.2 184.6 L529.8 186.2 L531.6 188.0 L533.2 189.6 L534.9 191.5 L536.4 193.1 L538.1 195.1 L539.5 196.8 L541.1 198.8 L542.4 200.6 L543.9 202.7 L545.2 204.5 L546.6 206.6 L548.0 208.8 L549.1 210.7 L550.4 212.9 L551.4 214.9 L552.6 217.1 L553.6 219.1 L554.6 221.4 L555.5 223.5 L556.5 225.9 L557.3 227.9 L558.1 230.3 L559.0 232.8 L559.6 234.9 L560.3 237.3 L560.9 239.5 L561.5 241.9 L562.0 244.1 L562.6 246.6 L563.0 248.8 L563.5 251.3 L563.8 253.5 L564.2 256.0 L564.5 258.2 L564.9 260.7 L565.1 263.2 L565.4 265.4 L565.6 268.0 L565.8 270.2 L566.0 272.7 L566.2 274.9 L566.4 277.5 L566.5 279.7 L566.7 282.2 L566.8 284.4 L566.9 287.0 L567.0 289.2 L567.1 291.8 L567.2 294.3 L567.2 296.5 L567.3 299.1 L567.4 301.3 L567.4 303.8 L567.5 306.0 L567.5 308.6 L567.5 310.8 L567.6 313.3 L567.6 315.6 L567.7 318.1 L567.7 320.6 L567.7 322.9 L567.7 325.4 L567.8 327.6 L567.8 330.2 L567.8 332.4 L567.8 334.9 L567.8 337.2 L567.9 339.7 L567.9 341.9 L567.9 344.5 L567.9 346.7 L568.0 349.2 L568.0 351.8 L568.0 354.0 L568.1 356.5 L568.1 358.8 L568.1 361.3 L568.2 363.5 L568.2 366.1 L568.3 368.3 L568.3 370.8 L568.4 373.1 L568.4 375.6 L568.5 378.1" stroke-width="1.5"/>
<path d="M363.3 104.9 L365.7 104.9 L368.5 105.0 L371.0 105.0 L373.8 105.1 L376.2 105.1 L379.1 105.2 L381.5 105.3 L384.3 105.5 L386.8 105.6 L389.6 105.7 L392.0 105.9 L394.8 106.1 L397.6 106.3 L400.1 106.5 L402.8 106.8 L405.3 107.0 L408.1 107.3 L410.5 107.6 L413.3 107.9 L415.7 108.2 L418.5 108.6 L421.0 109.0 L423.7 109.4 L426.1 109.8 L428.9 110.3 L431.7 110.8 L434.1 111.3 L436.8 111.9 L439.2 112.4 L442.0 113.1 L444.4 113.6 L447.1 114.3 L449.5 115.0 L452.2 115.7 L454.6 116.4 L457.2 117.2 L459.9 118.0 L462.3 118.8 L464.9 119.7 L467.3 120.5 L469.9 121.5 L472.2 122.3 L474.8 123.3 L477.1 124.2 L479.7 125.3 L482.0 126.3 L484.5 127.4 L486.8 128.5 L489.3 129.7 L491.8 130.9 L494.0 132.0 L496.5 133.3 L498.7 134.5 L501.2 135.8 L503.3 137.0 L505.7 138.4 L507.8 139.7 L510.2 141.2 L512.3 142.5 L514.7 144.0 L516.7 145.3 L519.0 146.9 L521.4 148.5 L523.3 150.0 L525.6 151.6 L527.6 153.1 L529.8 154.8 L531.7 156.3 L533.9 158.1 L535.8 159.7 L537.9 161.5 L539.7 163.2 L541.8 165.0 L543.9 166.9 L545.6 168.7 L547.6 170.6 L549.4 172.4 L551.3 174.4 L553.0 176.2 L554.9 178.3 L556.5 180.1 L558.3 182.3 L559.8 184.2 L561.6 186.3 L563.1 188.3 L564.7 190.6 L566.4 192.8 L567.7 194.9 L569.3 197.2 L570.6 199.3 L572.0 201.7 L573.2 203.8 L574.6 206.3 L575.7 208.4 L577.0 211.0 L578.0 213.2 L579.1 215.7 L580.2 218.3 L581.1 220.6 L582.1 223.2 L582.9 225.6 L583.7 228.2 L584.4 230.6 L585.2 233.3 L585.8 235.6 L586.5 238.4 L587.0 240.8 L587.6 243.5 L588.0 245.9 L588.5 248.7 L588.9 251.4 L589.3 253.9 L589.7 256.6 L590.0 259.1 L590.3 261.9 L590.5 264.3 L590.8 267.1 L591.0 269.5 L591.2 272.3 L591.4 274.8 L591.6 277.6 L591.7 280.0 L591.8 282.8 L592.0 285.6 L592.1 288.1 L592.2 290.9 L592.3 293.3 L592.4 296.1 L592.4 298.6 L592.5 301.4 L592.5 303.8 L592.6 306.6 L592.6 309.1 L592.7 311.9 L592.7 314.7 L592.7 317.1 L592.7 320.0 L592.7 322.4 L592.7 325.2 L592.7 327.7 L592.8 330.5 L592.8 332.9 L592.8 335.7 L592.8 338.2 L592.8 341.0 L592.8 343.4 L592.8 346.2 L592.8 349.1 L592.7 351.5 L592.7 354.3 L592.7 356.8 L592.7 359.6 L592.7 362.0 L592.7 364.8 L592.7 367.3 L592.6 370.1 L592.6 372.5 L592.6 375.3 L592.6 378.1" stroke-width="2.1"/>
<path d="M363.3 85.4 L365.9 85.4 L368.9 85.5 L371.5 85.5 L374.5 85.5 L377.1 85.6 L380.1 85.7 L382.7 85.8 L385.7 86.0 L388.3 86.1 L391.3 86.3 L393.9 86.5 L396.9 86.7 L399.8 86.9 L402.4 87.2 L405.4 87.5 L408.0 87.7 L411.0 88.1 L413.6 88.4 L416.5 88.8 L419.1 89.2 L422.1 89.6 L424.7 90.0 L427.6 90.6 L430.2 91.0 L433.1 91.6 L436.1 92.2 L438.6 92.8 L441.5 93.4 L444.1 94.0 L447.0 94.8 L449.5 95.4 L452.4 96.2 L454.9 96.9 L457.8 97.8 L460.3 98.6 L463.1 99.5 L465.9 100.5 L468.4 101.3 L471.2 102.3 L473.7 103.3 L476.4 104.4 L478.9 105.3 L481.6 106.5 L484.0 107.5 L486.8 108.8 L489.1 109.9 L491.8 111.2 L494.2 112.3 L496.9 113.7 L499.5 115.0 L501.8 116.3 L504.4 117.7 L506.7 119.0 L509.3 120.5 L511.5 121.9 L514.1 123.4 L516.3 124.8 L518.8 126.5 L521.0 127.9 L523.4 129.6 L525.6 131.1 L528.0 132.8 L530.4 134.6 L532.5 136.1 L534.9 137.9 L536.9 139.5 L539.3 141.4 L541.3 143.1 L543.6 145.0 L545.5 146.7 L547.8 148.7 L549.7 150.4 L551.9 152.4 L554.1 154.5 L556.0 156.3 L558.1 158.4 L559.9 160.2 L562.0 162.4 L563.8 164.3 L565.8 166.5 L567.5 168.4 L569.5 170.7 L571.2 172.7 L573.1 175.0 L574.7 177.0 L576.5 179.4 L578.3 181.8 L579.8 183.9 L581.5 186.3 L583.0 188.5 L584.6 191.0 L586.0 193.2 L587.5 195.8 L588.8 198.1 L590.2 200.7 L591.5 203.0 L592.8 205.7 L594.1 208.3 L595.1 210.7 L596.3 213.5 L597.2 215.9 L598.3 218.7 L599.2 221.2 L600.1 224.0 L600.9 226.5 L601.7 229.4 L602.4 231.9 L603.1 234.8 L603.6 237.3 L604.3 240.3 L604.8 243.2 L605.3 245.8 L605.8 248.7 L606.1 251.3 L606.6 254.3 L606.9 256.9 L607.2 259.8 L607.5 262.4 L607.8 265.4 L608.0 268.0 L608.2 271.0 L608.4 273.6 L608.6 276.6 L608.8 279.6 L608.9 282.2 L609.0 285.2 L609.1 287.8 L609.2 290.8 L609.3 293.4 L609.4 296.4 L609.5 299.0 L609.5 302.0 L609.6 304.6 L609.6 307.6 L609.7 310.6 L609.7 313.2 L609.7 316.2 L609.7 318.8 L609.7 321.8 L609.7 324.4 L609.7 327.4 L609.7 330.0 L609.7 333.0 L609.7 335.6 L609.6 338.6 L609.6 341.2 L609.6 344.2 L609.6 347.1 L609.5 349.8 L609.5 352.8 L609.5 355.4 L609.4 358.4 L609.4 361.0 L609.4 363.9 L609.3 366.6 L609.2 369.6 L609.2 372.2 L609.1 375.1 L609.0 378.1" stroke-width="2.6"/>
<path d="M363.3 66.1 L366.0 66.1 L369.2 66.1 L371.9 66.2 L375.1 66.2 L377.9 66.3 L381.0 66.4 L383.8 66.5 L386.9 66.6 L389.7 66.8 L392.9 67.0 L395.6 67.2 L398.8 67.4 L401.9 67.7 L404.7 67.9 L407.8 68.2 L410.6 68.6 L413.7 69.0 L416.4 69.3 L419.6 69.8 L422.3 70.2 L425.4 70.7 L428.2 71.2 L431.3 71.7 L434.0 72.3 L437.1 72.9 L440.2 73.6 L442.9 74.2 L445.9 75.0 L448.6 75.7 L451.7 76.5 L454.3 77.2 L457.4 78.2 L460.0 79.0 L463.0 79.9 L465.6 80.8 L468.6 81.9 L471.6 83.0 L474.2 84.0 L477.1 85.1 L479.7 86.2 L482.6 87.4 L485.1 88.5 L488.0 89.8 L490.5 91.0 L493.4 92.3 L495.8 93.6 L498.6 95.0 L501.1 96.3 L503.9 97.8 L506.6 99.4 L509.0 100.7 L511.7 102.3 L514.1 103.8 L516.8 105.5 L519.1 106.9 L521.7 108.7 L524.0 110.2 L526.6 112.0 L528.9 113.6 L531.5 115.4 L533.7 117.0 L536.2 118.9 L538.7 120.9 L540.9 122.6 L543.3 124.5 L545.5 126.3 L547.9 128.3 L550.0 130.1 L552.4 132.2 L554.4 134.0 L556.8 136.1 L558.8 138.0 L561.1 140.2 L563.4 142.4 L565.3 144.3 L567.5 146.6 L569.5 148.5 L571.6 150.8 L573.5 152.8 L575.6 155.2 L577.5 157.2 L579.5 159.6 L581.3 161.7 L583.3 164.2 L585.1 166.3 L587.0 168.8 L588.9 171.3 L590.6 173.5 L592.4 176.1 L594.0 178.3 L595.8 180.9 L597.3 183.2 L599.0 185.9 L600.4 188.3 L602.0 191.0 L603.4 193.4 L604.9 196.2 L606.3 199.0 L607.5 201.4 L608.9 204.3 L610.0 206.8 L611.2 209.7 L612.2 212.3 L613.4 215.3 L614.3 217.9 L615.3 220.9 L616.1 223.5 L617.0 226.6 L617.7 229.2 L618.4 232.3 L619.1 235.4 L619.7 238.1 L620.3 241.2 L620.8 243.9 L621.3 247.1 L621.7 249.8 L622.1 252.9 L622.5 255.7 L622.8 258.8 L623.1 261.6 L623.4 264.7 L623.6 267.5 L623.9 270.6 L624.1 273.8 L624.2 276.6 L624.4 279.7 L624.5 282.5 L624.7 285.6 L624.8 288.4 L624.9 291.6 L625.0 294.4 L625.1 297.5 L625.2 300.3 L625.3 303.4 L625.3 306.6 L625.3 309.4 L625.3 312.5 L625.4 315.3 L625.4 318.5 L625.4 321.2 L625.4 324.4 L625.4 327.2 L625.4 330.3 L625.4 333.1 L625.4 336.2 L625.4 339.0 L625.4 342.2 L625.3 345.3 L625.3 348.1 L625.3 351.3 L625.2 354.0 L625.2 357.2 L625.2 360.0 L625.1 363.1 L625.0 365.9 L625.0 369.1 L624.9 371.8 L624.8 375.0 L624.7 378.1" stroke-width="4.5"/>
</g>
<line x1="363.3" y1="47.1" x2="363.3" y2="375.4" stroke="#c4c4c4" stroke-width="1.3"/>
<line x1="363.3" y1="47.1" x2="678.5" y2="47.1" stroke="#c4c4c4" stroke-width="1.3"/>
<line x1="678.5" y1="47.1" x2="678.5" y2="375.4" stroke="#8c8c8c" stroke-width="1.1"/>
<line x1="363.3" y1="375.4" x2="678.5" y2="375.4" stroke="#6e6e6e" stroke-width="1.2"/>
<line x1="389.57" y1="375.4" x2="389.57" y2="372.4" stroke="#6e6e6e" stroke-width="0.9"/>
<line x1="389.57" y1="47.1" x2="389.57" y2="50.1" stroke="#888" stroke-width="0.9"/>
<line x1="415.83" y1="375.4" x2="415.83" y2="372.4" stroke="#6e6e6e" stroke-width="0.9"/>
<line x1="415.83" y1="47.1" x2="415.83" y2="50.1" stroke="#888" stroke-width="0.9"/>
<line x1="442.10" y1="375.4" x2="442.10" y2="372.4" stroke="#6e6e6e" stroke-width="0.9"/>
<line x1="442.10" y1="47.1" x2="442.10" y2="50.1" stroke="#888" stroke-width="0.9"/>
<line x1="468.37" y1="375.4" x2="468.37" y2="372.4" stroke="#6e6e6e" stroke-width="0.9"/>
<line x1="468.37" y1="47.1" x2="468.37" y2="50.1" stroke="#888" stroke-width="0.9"/>
<line x1="494.63" y1="375.4" x2="494.63" y2="372.4" stroke="#6e6e6e" stroke-width="0.9"/>
<line x1="494.63" y1="47.1" x2="494.63" y2="50.1" stroke="#888" stroke-width="0.9"/>
<line x1="520.90" y1="375.4" x2="520.90" y2="372.4" stroke="#6e6e6e" stroke-width="0.9"/>
<line x1="520.90" y1="47.1" x2="520.90" y2="50.1" stroke="#888" stroke-width="0.9"/>
<line x1="547.17" y1="375.4" x2="547.17" y2="372.4" stroke="#6e6e6e" stroke-width="0.9"/>
<line x1="547.17" y1="47.1" x2="547.17" y2="50.1" stroke="#888" stroke-width="0.9"/>
<line x1="573.43" y1="375.4" x2="573.43" y2="372.4" stroke="#6e6e6e" stroke-width="0.9"/>
<line x1="573.43" y1="47.1" x2="573.43" y2="50.1" stroke="#888" stroke-width="0.9"/>
<line x1="599.70" y1="375.4" x2="599.70" y2="372.4" stroke="#6e6e6e" stroke-width="0.9"/>
<line x1="599.70" y1="47.1" x2="599.70" y2="50.1" stroke="#888" stroke-width="0.9"/>
<line x1="625.97" y1="375.4" x2="625.97" y2="372.4" stroke="#6e6e6e" stroke-width="0.9"/>
<line x1="625.97" y1="47.1" x2="625.97" y2="50.1" stroke="#888" stroke-width="0.9"/>
<line x1="652.23" y1="375.4" x2="652.23" y2="372.4" stroke="#6e6e6e" stroke-width="0.9"/>
<line x1="652.23" y1="47.1" x2="652.23" y2="50.1" stroke="#888" stroke-width="0.9"/>
<line x1="363.3" y1="101.82" x2="366.3" y2="101.82" stroke="#888" stroke-width="0.9"/>
<line x1="678.5" y1="101.82" x2="675.5" y2="101.82" stroke="#888" stroke-width="0.9"/>
<line x1="363.3" y1="156.53" x2="366.3" y2="156.53" stroke="#888" stroke-width="0.9"/>
<line x1="678.5" y1="156.53" x2="675.5" y2="156.53" stroke="#888" stroke-width="0.9"/>
<line x1="363.3" y1="211.25" x2="366.3" y2="211.25" stroke="#888" stroke-width="0.9"/>
<line x1="678.5" y1="211.25" x2="675.5" y2="211.25" stroke="#888" stroke-width="0.9"/>
<line x1="363.3" y1="265.97" x2="366.3" y2="265.97" stroke="#888" stroke-width="0.9"/>
<line x1="678.5" y1="265.97" x2="675.5" y2="265.97" stroke="#888" stroke-width="0.9"/>
<line x1="363.3" y1="320.68" x2="366.3" y2="320.68" stroke="#888" stroke-width="0.9"/>
<line x1="678.5" y1="320.68" x2="675.5" y2="320.68" stroke="#888" stroke-width="0.9"/>
<text x="358.6" y="52.00" font-size="10.2" fill="#262626" text-anchor="end">3</text>
<text x="358.6" y="106.72" font-size="10.2" fill="#262626" text-anchor="end">2</text>
<text x="358.6" y="161.43" font-size="10.2" fill="#262626" text-anchor="end">1</text>
<text x="358.6" y="216.15" font-size="10.2" fill="#262626" text-anchor="end">0</text>
<text x="358.6" y="270.87" font-size="10.2" fill="#262626" text-anchor="end">-1</text>
<text x="358.6" y="325.58" font-size="10.2" fill="#262626" text-anchor="end">-2</text>
<text x="358.6" y="380.30" font-size="10.2" fill="#262626" text-anchor="end">-3</text>
<text transform="translate(359.30,394.3) rotate(-45)" font-size="11.9" fill="#262626" text-anchor="middle" dy="0.36em">80</text>
<text transform="translate(385.57,394.3) rotate(-45)" font-size="11.9" fill="#262626" text-anchor="middle" dy="0.36em">60</text>
<text transform="translate(411.83,394.3) rotate(-45)" font-size="11.9" fill="#262626" text-anchor="middle" dy="0.36em">40</text>
<text transform="translate(438.10,394.3) rotate(-45)" font-size="11.9" fill="#262626" text-anchor="middle" dy="0.36em">20</text>
<text transform="translate(464.37,394.3) rotate(-45)" font-size="11.9" fill="#262626" text-anchor="middle" dy="0.36em">0</text>
<text transform="translate(491.53,393.6) rotate(-45)" font-size="11.9" fill="#262626" text-anchor="middle" dy="0.36em">-20</text>
<text transform="translate(517.80,393.6) rotate(-45)" font-size="11.9" fill="#262626" text-anchor="middle" dy="0.36em">-40</text>
<text transform="translate(544.07,393.6) rotate(-45)" font-size="11.9" fill="#262626" text-anchor="middle" dy="0.36em">-60</text>
<text transform="translate(570.33,393.6) rotate(-45)" font-size="11.9" fill="#262626" text-anchor="middle" dy="0.36em">-80</text>
<text transform="translate(596.60,393.6) rotate(-45)" font-size="11.9" fill="#262626" text-anchor="middle" dy="0.36em">-100</text>
<text transform="translate(622.87,393.6) rotate(-45)" font-size="11.9" fill="#262626" text-anchor="middle" dy="0.36em">-120</text>
<text transform="translate(649.13,393.6) rotate(-45)" font-size="11.9" fill="#262626" text-anchor="middle" dy="0.36em">-140</text>
<text transform="translate(675.40,393.6) rotate(-45)" font-size="11.9" fill="#262626" text-anchor="middle" dy="0.36em">-160</text>
<text x="520.6" y="420.4" font-size="13.0" fill="#262626" text-anchor="middle">Total Precipitation Anomaly [mm] (March-August)</text>
<text transform="translate(343.6,211) rotate(-90)" font-size="13.05" fill="#262626" text-anchor="middle">Mean Summer Temperature Anomaly [°C]</text>
<g font-style="italic" fill="#999999" font-size="11.6">
<text x="372.3" y="45.6">Return period</text>
<text x="372.3" y="62">200</text>
<text x="372.3" y="82.6">100</text>
<text x="372.3" y="103.5">50</text>
<text x="372.3" y="129.6">20</text>
<text x="372.3" y="150.7">10</text>
<text x="372.3" y="173.1">5</text>
<text x="372.3" y="211">2</text>
</g>
<g fill="none" stroke="#000" stroke-width="1.45">
<circle cx="482.1" cy="90.7" r="2.5"/>
<circle cx="500.8" cy="108.0" r="2.5"/>
<circle cx="496.0" cy="118.2" r="2.5"/>
<circle cx="368.3" cy="148.2" r="2.5"/>
<circle cx="436.1" cy="142.9" r="2.5"/>
<circle cx="446.5" cy="144.2" r="2.5"/>
<circle cx="446.8" cy="163.7" r="2.5"/>
<circle cx="476.2" cy="161.2" r="2.5"/>
<circle cx="481.2" cy="162.7" r="2.5"/>
<circle cx="479.7" cy="170.7" r="2.5"/>
<circle cx="478.4" cy="173.8" r="2.5"/>
<circle cx="488.1" cy="174.0" r="2.5"/>
<circle cx="507.6" cy="183.1" r="2.5"/>
<circle cx="528.5" cy="173.8" r="2.5"/>
<circle cx="561.0" cy="186.9" r="2.5"/>
<circle cx="577.7" cy="141.6" r="2.5"/>
<circle cx="422.8" cy="179.9" r="2.5"/>
<circle cx="414.9" cy="190.8" r="2.5"/>
<circle cx="389.2" cy="198.3" r="2.5"/>
<circle cx="398.2" cy="199.0" r="2.5"/>
<circle cx="438.4" cy="197.7" r="2.5"/>
<circle cx="442.7" cy="201.6" r="2.5"/>
<circle cx="458.6" cy="203.4" r="2.5"/>
<circle cx="478.2" cy="202.7" r="2.5"/>
<circle cx="449.5" cy="209.0" r="2.5"/>
<circle cx="426.0" cy="209.4" r="2.5"/>
<circle cx="418.6" cy="214.2" r="2.5"/>
<circle cx="460.3" cy="213.8" r="2.5"/>
<circle cx="417.6" cy="220.9" r="2.5"/>
<circle cx="417.9" cy="224.8" r="2.5"/>
<circle cx="446.2" cy="217.7" r="2.5"/>
<circle cx="459.9" cy="222.1" r="2.5"/>
<circle cx="403.0" cy="228.4" r="2.5"/>
<circle cx="389.3" cy="236.5" r="2.5"/>
<circle cx="466.8" cy="233.5" r="2.5"/>
<circle cx="467.4" cy="236.7" r="2.5"/>
<circle cx="513.7" cy="217.7" r="2.5"/>
<circle cx="511.5" cy="228.4" r="2.5"/>
<circle cx="511.9" cy="232.1" r="2.5"/>
<circle cx="520.6" cy="231.1" r="2.5"/>
<circle cx="528.7" cy="237.6" r="2.5"/>
<circle cx="536.2" cy="242.1" r="2.5"/>
<circle cx="547.0" cy="237.6" r="2.5"/>
<circle cx="526.1" cy="245.4" r="2.5"/>
<circle cx="481.7" cy="243.8" r="2.5"/>
<circle cx="389.3" cy="254.2" r="2.5"/>
<circle cx="448.8" cy="269.5" r="2.5"/>
<circle cx="440.8" cy="276.7" r="2.5"/>
<circle cx="513.7" cy="294.0" r="2.5"/>
<circle cx="541.4" cy="288.4" r="2.5"/>
<circle cx="488.4" cy="325.7" r="2.5"/>
<circle cx="414.2" cy="298.0" r="2.5"/>
<circle cx="415.7" cy="322.0" r="2.5"/>
<circle cx="589.9" cy="226.3" r="2.5"/>
<circle cx="652.8" cy="223.0" r="2.5"/>
</g>
<circle cx="551.1" cy="113.6" r="4.2" fill="#000" stroke="#dc143c" stroke-width="2.6"/>
<text x="555.8" y="106.9" font-size="10" fill="#dc143c">2018</text>
<circle cx="432.5" cy="237.1" r="4.1" fill="#000" stroke="#4682b4" stroke-width="2.6"/>
<text x="428.1" y="252.3" font-size="10.1" fill="#4682b4">2017</text>
<text x="342.6" y="16.6" font-size="18.3" letter-spacing="0.6" fill="#000">(c)</text>
</svg></body></html>
